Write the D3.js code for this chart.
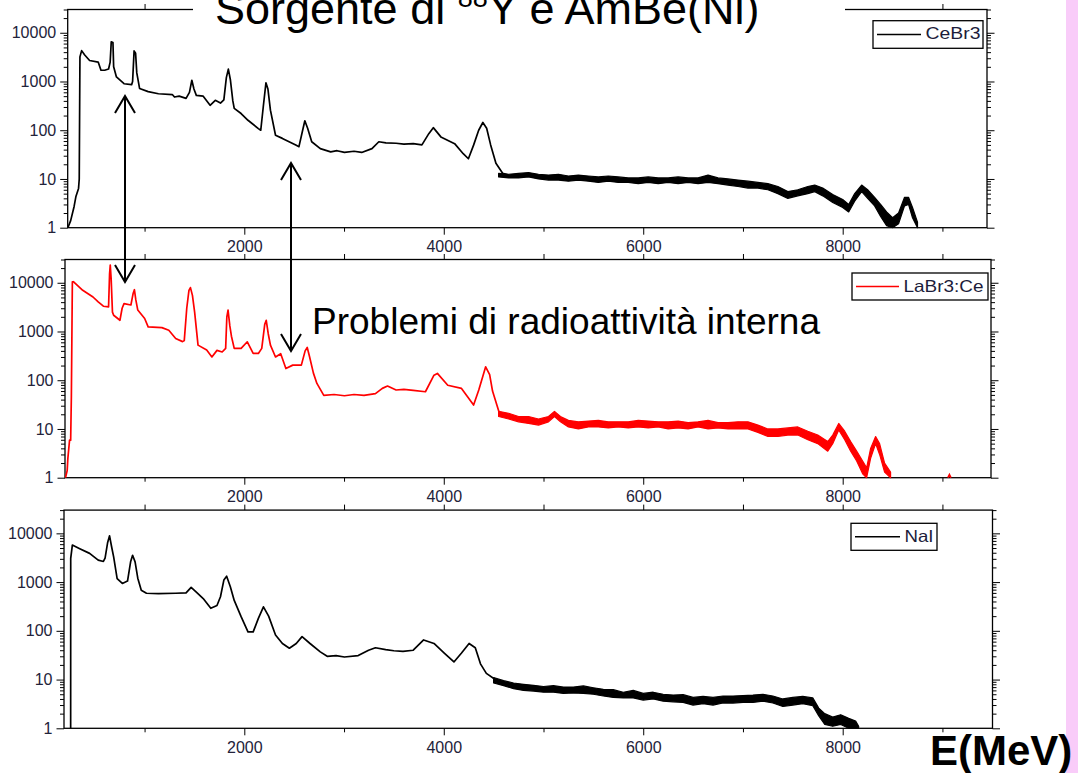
<!DOCTYPE html>
<html><head><meta charset="utf-8">
<script src="https://cdn.jsdelivr.net/npm/d3@7"></script>
<style>
html,body{margin:0;padding:0;background:#fff;}
svg{display:block;}
text{font-family:Arial,"Liberation Sans",Helvetica,sans-serif;}
</style></head><body>
<svg id="chart" width="1078" height="773"></svg>
<script>
// ---------------- data ----------------
const seriesNames = ["CeBr3", "LaBr3:Ce", "NaI"];
const seriesColors = ["#000000", "#ff0000", "#000000"];
const xMajorTicks = [2000, 4000, 6000, 8000];
const xMinorTicks = [1000, 3000, 5000, 7000, 9000];
const xTopTicks = [1000, 2000, 3000, 4000, 5000, 6000, 7000, 8000, 9000];
const yTickValues = [1, 10, 100, 1000, 10000];
const yTickLabels = ["1", "10", "100", "1000", "10000"];

// [energy, counts]
const cebr3Line = [[231,1],[259,1.4],[293,2.7],[311,4.3],[338,6.4],[345,10],[352,3200],[369,4300],[400,3500],[449,2700],[535,2500],[563,1700],[600,1700],[639,1800],[655,2500],[666,6500],[683,6300],[690,2000],[718,1240],[794,900],[870,860],[880,1000],[895,4250],[910,3800],[922,1500],[950,720],[1036,620],[1139,560],[1278,540],[1300,480],[1347,500],[1416,450],[1450,600],[1474,1060],[1495,700],[1519,520],[1588,500],[1657,325],[1709,410],[1761,360],[1795,420],[1820,1200],[1840,1790],[1860,1100],[1885,400],[1899,280],[1968,220],[2037,160],[2141,108],[2165,100],[2190,300],[2217,940],[2237,700],[2262,258],[2313,79],[2382,68],[2521,49],[2548,46],[2580,90],[2607,156],[2635,110],[2676,58],[2762,42],[2866,36],[2930,38],[3004,35],[3100,37],[3177,35],[3280,42],[3349,58],[3420,55],[3522,54],[3600,52],[3694,53],[3781,50],[3850,85],[3895,113],[3971,73],[4109,53],[4195,33],[4247,26],[4300,50],[4350,100],[4392,144],[4430,110],[4470,50],[4523,21],[4592,13],[4650,12]];
// [energy, low, high] envelope of the noisy tail
const cebr3Noise = [[4550,11,13],[4650,10.5,12.5],[4750,10.5,13],[4850,11,13.5],[4950,10,12.5],[5050,9.5,12],[5150,9.5,12.5],[5250,9,11.5],[5350,9.5,12],[5450,9,11.5],[5550,8.5,11],[5650,9,11.5],[5750,8.5,11],[5850,8.5,10.5],[5950,8,10.5],[6050,8.5,11],[6150,8,10.5],[6250,8.5,10.5],[6350,8,11],[6450,8.5,10.5],[6550,8,10.5],[6650,8.5,12],[6750,8,10.5],[6850,7.5,10],[6950,7,9.5],[7050,6.5,9],[7150,6.5,8.5],[7250,6,8],[7350,5,7],[7450,4,5.5],[7550,4.5,6],[7650,5,7],[7720,5.5,7.5],[7800,4.5,6.5],[7900,3.3,4.8],[8000,2.6,3.8],[8060,2.1,3],[8120,3.5,5],[8190,5.5,7.5],[8250,4,6],[8320,2.8,4.2],[8380,1.7,3],[8440,1.1,2.1],[8500,1,1.6],[8560,1.2,2],[8620,2.8,4.2],[8660,3,4.2],[8700,1.6,2.6],[8750,1,1.3]];

const labr3Line = [[207,1],[224,1.4],[231,2.5],[248,5.9],[259,5.9],[266,46],[276,10400],[286,10500],[380,7000],[483,5100],[535,4050],[587,3300],[639,3200],[649,15000],[656,23000],[665,12000],[678,2500],[690,2150],[753,1700],[775,3000],[794,3730],[863,3500],[885,6000],[898,7200],[912,4500],[932,2750],[1001,1850],[1036,1240],[1174,1200],[1243,1060],[1312,720],[1381,620],[1398,650],[1423,3000],[1445,7000],[1460,7950],[1480,5500],[1502,2500],[1536,525],[1623,415],[1675,300],[1726,410],[1778,380],[1813,450],[1825,2000],[1837,2750],[1855,1300],[1871,800],[1899,450],[1968,450],[2030,615],[2089,355],[2141,355],[2175,450],[2205,1400],[2220,1700],[2240,900],[2262,525],[2313,300],[2365,350],[2417,174],[2486,204],[2572,204],[2610,400],[2631,470],[2655,300],[2693,140],[2728,86],[2797,49],[2900,51],[3004,48],[3100,51],[3200,49],[3315,53],[3384,68],[3436,76],[3522,63],[3600,65],[3694,62],[3816,58],[3902,127],[3936,138],[4040,79],[4178,68],[4299,31],[4351,63],[4420,188],[4460,130],[4489,60],[4558,21],[4620,18]];
const labr3Noise = [[4550,18,23],[4650,16,21],[4750,14,18],[4850,13,18],[4950,12,16],[5050,14,18],[5110,18,23],[5170,14,18],[5250,11,15],[5350,10,14],[5450,11,14.5],[5550,11,15],[5650,10.5,14],[5750,11,14],[5850,10.5,14],[5950,11,15],[6050,10.5,14.5],[6150,11,14],[6250,10,14],[6350,10.5,14.5],[6450,10,13.5],[6550,11,14],[6650,10,15],[6750,10.5,13.5],[6850,10,13.5],[6950,10,14],[7050,10,14],[7150,8.5,12],[7250,7,10],[7350,7,10],[7450,7.5,10.5],[7550,7.5,11],[7650,6,9],[7750,5,7.5],[7850,3.5,5.5],[7900,5,7.5],[7960,9.5,13],[8020,6,9],[8080,3.5,5.5],[8140,2.2,3.5],[8200,1.2,2.2],[8240,1,1.6],[8280,2.5,4],[8330,5,7],[8370,3,5],[8420,1.3,2],[8480,1,1.3]];
const labr3Blip = [[9055,1],[9070,1.15],[9085,1]];

const naiLine = [[259,1],[259.5,3080],[276,5750],[345,4900],[449,3880],[535,2830],[587,2650],[604,3100],[630,6500],[649,8900],[668,5500],[690,3300],[725,1180],[777,940],[829,1050],[860,2600],[880,3550],[905,2600],[932,1200],[967,680],[1019,590],[1139,580],[1312,590],[1416,600],[1467,780],[1519,620],[1588,460],[1664,290],[1726,330],[1761,500],[1795,1100],[1823,1320],[1860,800],[1899,420],[1968,195],[2037,95],[2089,95],[2141,180],[2192,310],[2244,200],[2313,82],[2382,55],[2452,44],[2521,55],[2579,76],[2659,55],[2762,37],[2831,30],[2920,31],[3004,29],[3142,31],[3246,40],[3315,45],[3418,41],[3500,39],[3591,38],[3694,40],[3798,65],[3902,55],[4005,35],[4102,23],[4178,35],[4254,55],[4316,45],[4368,21],[4427,13.4],[4523,9.8]];
const naiNoise = [[4500,8.5,11],[4600,7.5,9.5],[4700,6.5,8.5],[4800,6,8],[4900,5.8,7.6],[5000,5.5,7.2],[5100,5.5,7.5],[5200,5.2,7],[5300,5.3,7],[5400,5.2,7.4],[5500,5,6.8],[5600,4.6,6.3],[5700,4.3,6.2],[5800,4.2,5.5],[5900,4.2,6],[6000,3.8,5.2],[6100,4,5.5],[6200,3.6,5],[6300,3.5,4.8],[6400,3.4,4.9],[6500,3,4.3],[6600,3.2,4.5],[6700,3,4.3],[6800,3.3,4.6],[6900,3.3,4.6],[7000,3.4,4.7],[7100,3.4,4.8],[7200,3.6,5],[7300,3.3,4.6],[7400,2.8,4],[7500,3,4.3],[7600,3.2,4.5],[7700,2.9,4.2],[7760,1.8,2.6],[7820,1.2,2],[7900,1.1,1.7],[7980,1.2,1.9],[8060,1,1.6],[8130,1,1.4],[8160,1,1.1]];

const seriesLines = [cebr3Line, labr3Line, naiLine];
const seriesNoise = [cebr3Noise, labr3Noise, naiNoise];
const seriesExtra = [[], [labr3Blip], []];

// ---------------- layout ----------------
const W = 1078, H = 773;
const panels = [
  {left: 67.7, right: 987,   bottom: 227.7, legend: {x: 873, y: 20.7, w: 110, h: 27.6, lineEnd: 921, textW: 55}},
  {left: 65,   right: 991,   bottom: 477.7, legend: {x: 852, y: 273,  w: 136, h: 27,   lineEnd: 899, textW: 80}},
  {left: 64,   right: 992.5, bottom: 728.3, legend: {x: 851, y: 523.3,w: 86,  h: 27,   lineEnd: 900, textW: 29}}
];
const plotH = 218.2;
// common energy->pixel mapping
const xBase = d3.scaleLinear().domain([2000, 8000]).range([244.3, 842.7]);

const svg = d3.select("#chart");
svg.append("rect").attr("width", W).attr("height", H).attr("fill", "#fff");

panels.forEach((p, i) => {
  const top = p.bottom - plotH;
  const x = d3.scaleLinear().domain([xBase.invert(p.left), xBase.invert(p.right)]).range([p.left, p.right]);
  const y = d3.scaleLog().domain([1, 30000]).range([p.bottom, top]);
  const g = svg.append("g");

  const clipId = "clip" + i;
  g.append("clipPath").attr("id", clipId).append("rect")
    .attr("x", p.left).attr("y", top).attr("width", p.right - p.left).attr("height", plotH + 1);

  const minorY = y.ticks().filter(v => yTickValues.indexOf(v) < 0);

  const styleAxis = sel => {
    sel.select(".domain").remove();
    sel.selectAll(".tick line").attr("stroke", "#000").attr("stroke-width", 1);
    sel.selectAll(".tick text").attr("fill", "#23233a").attr("font-size", 16)
      .attr("font-family", "Arial, 'Liberation Sans', sans-serif");
  };

  // left axis
  g.append("g").attr("transform", `translate(${p.left},0)`)
    .call(d3.axisLeft(y).tickValues(yTickValues).tickFormat((d, k) => yTickLabels[k]).tickSize(7.5).tickPadding(4))
    .call(styleAxis);
  g.append("g").attr("transform", `translate(${p.left},0)`)
    .call(d3.axisLeft(y).tickValues(minorY).tickFormat("").tickSize(4))
    .call(styleAxis);
  // right axis
  g.append("g").attr("transform", `translate(${p.right},0)`)
    .call(d3.axisRight(y).tickValues(yTickValues).tickFormat("").tickSize(7.5))
    .call(styleAxis);
  g.append("g").attr("transform", `translate(${p.right},0)`)
    .call(d3.axisRight(y).tickValues(minorY).tickFormat("").tickSize(4))
    .call(styleAxis);
  // bottom axis
  g.append("g").attr("transform", `translate(0,${p.bottom})`)
    .call(d3.axisBottom(x).tickValues(xMajorTicks).tickFormat(d3.format("d")).tickSize(7).tickPadding(6))
    .call(styleAxis);
  g.append("g").attr("transform", `translate(0,${p.bottom})`)
    .call(d3.axisBottom(x).tickValues(xMinorTicks).tickFormat("").tickSize(4))
    .call(styleAxis);
  // top axis
  g.append("g").attr("transform", `translate(0,${top})`)
    .call(d3.axisTop(x).tickValues(xTopTicks).tickFormat("").tickSize(5.5))
    .call(styleAxis);

  // frame
  g.append("rect").attr("x", p.left).attr("y", top).attr("width", p.right - p.left).attr("height", plotH)
    .attr("fill", "none").attr("stroke", "#000").attr("stroke-width", 1.3);

  const color = seriesColors[i];
  const plot = g.append("g").attr("clip-path", `url(#${clipId})`);
  const line = d3.line().x(d => x(d[0])).y(d => y(d[1]));
  const area = d3.area().x(d => x(d[0])).y0(d => y(d[1])).y1(d => y(d[2]));

  plot.append("path").datum(seriesNoise[i]).attr("d", area)
    .attr("fill", color).attr("stroke", color).attr("stroke-width", 1.2).attr("stroke-linejoin", "round");
  plot.append("path").datum(seriesLines[i]).attr("d", line)
    .attr("fill", "none").attr("stroke", color).attr("stroke-width", 1.7).attr("stroke-linejoin", "round");
  seriesExtra[i].forEach(arr => {
    plot.append("path").datum(arr).attr("d", line)
      .attr("fill", "none").attr("stroke", color).attr("stroke-width", 1.7);
  });

  // legend
  const L = p.legend;
  g.append("rect").attr("x", L.x).attr("y", L.y).attr("width", L.w).attr("height", L.h)
    .attr("fill", "#fff").attr("stroke", "#000").attr("stroke-width", 1.3);
  g.append("line").attr("x1", L.x + 4).attr("x2", L.lineEnd).attr("y1", L.y + L.h / 2).attr("y2", L.y + L.h / 2)
    .attr("stroke", color).attr("stroke-width", 1.5);
  g.append("text").attr("x", L.lineEnd + 4.5).attr("y", L.y + 18.5)
    .attr("font-size", 16.5).attr("fill", "#1c1c3a")
    .attr("textLength", L.textW).attr("lengthAdjust", "spacingAndGlyphs")
    .text(seriesNames[i]);
});

// title (white box covers the top frame)
svg.append("rect").attr("x", 193).attr("y", 0).attr("width", 652).attr("height", 15).attr("fill", "#fff");
const title = svg.append("text").attr("x", 215).attr("y", 24).attr("font-size", 45).attr("fill", "#000");
title.append("tspan").text("Sorgente di ");
title.append("tspan").attr("font-size", 27).attr("dy", -17).text("88");
title.append("tspan").attr("dy", 17).text("Y e AmBe(Ni)");

// annotation text
svg.append("text").attr("x", 312).attr("y", 334).attr("font-size", 37).attr("fill", "#000")
  .text("Problemi di radioattività interna");

// double-headed arrows
const arrows = [{x: 125, y1: 96, y2: 282}, {x: 291, y1: 163, y2: 351}];
arrows.forEach(a => {
  const ga = svg.append("g").attr("stroke", "#000").attr("stroke-width", 2).attr("fill", "none");
  ga.append("line").attr("x1", a.x).attr("x2", a.x).attr("y1", a.y1 + 1).attr("y2", a.y2 - 1);
  ga.append("path").attr("d", `M${a.x - 10},${a.y1 + 17} L${a.x},${a.y1} L${a.x + 10},${a.y1 + 17}`);
  ga.append("path").attr("d", `M${a.x - 10},${a.y2 - 17} L${a.x},${a.y2} L${a.x + 10},${a.y2 - 17}`);
});

// pink strip at the right
svg.append("rect").attr("x", 1066).attr("y", 0).attr("width", 12).attr("height", H).attr("fill", "#f9ccf9");

// axis unit label
svg.append("text").attr("x", 930).attr("y", 765).attr("font-size", 42).attr("font-weight", "bold")
  .attr("fill", "#000").text("E(MeV)");
</script>
</body></html>
